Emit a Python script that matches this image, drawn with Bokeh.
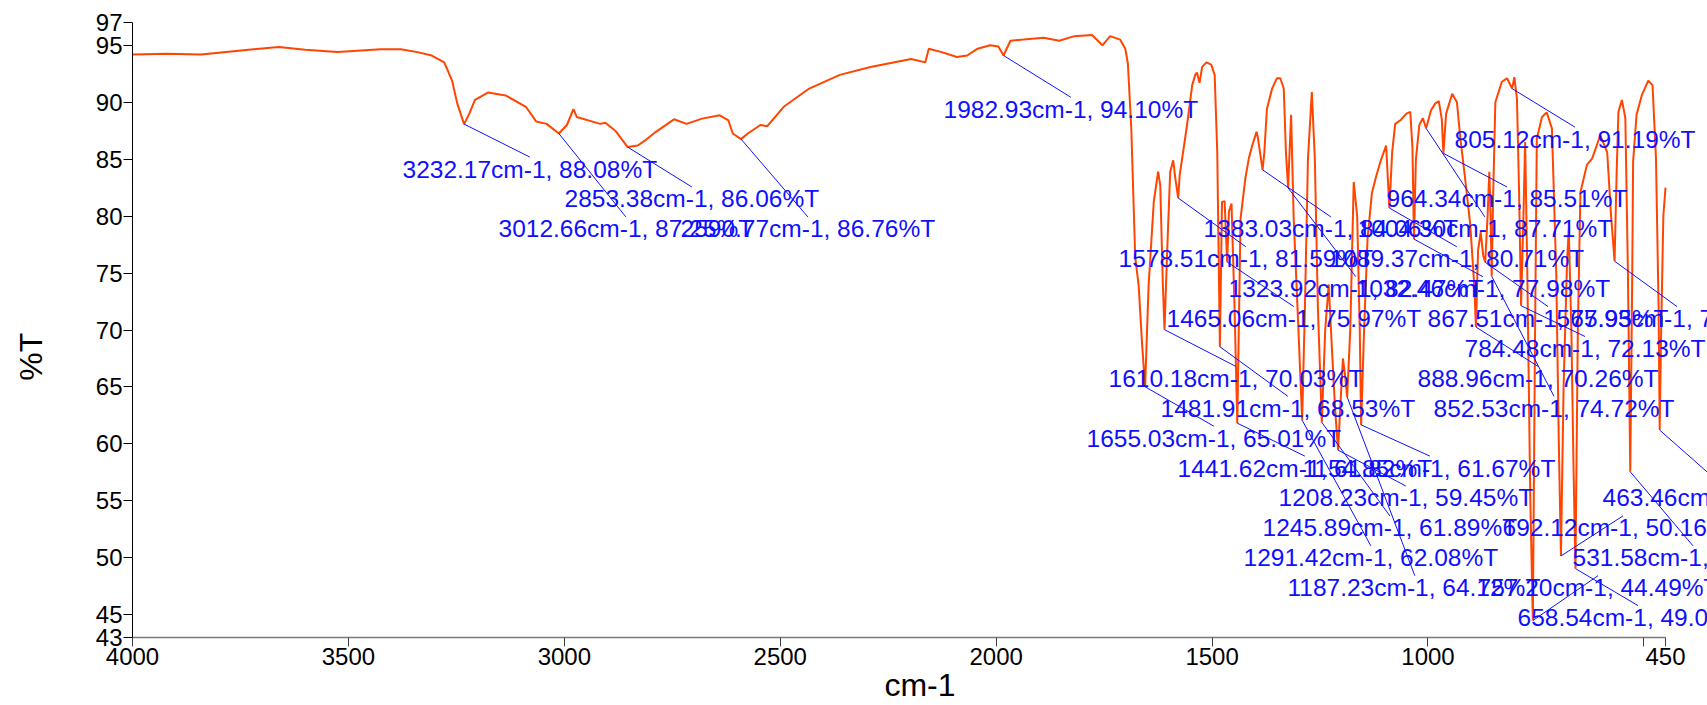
from bokeh.plotting import figure
from bokeh.models import Range1d, FixedTicker, LabelSet, ColumnDataSource
from bokeh.embed import file_html
from bokeh.resources import INLINE
from bokeh.core.properties import value

# ---------------- data: IR spectrum (cm-1, %T) ----------------
wavenumber = [4000, 3920, 3841, 3760, 3661, 3600, 3525, 3425, 3379, 3340, 3307, 3278, 3260, 3248,
              3232.17, 3220, 3207, 3177, 3136, 3089, 3065, 3041, 3012.66, 2994, 2979, 2971, 2917,
              2905, 2882, 2853.38, 2830, 2811, 2788, 2746, 2717, 2681, 2640, 2620, 2610, 2590.77,
              2575, 2546, 2530, 2492, 2433, 2362, 2291, 2197, 2164, 2156, 2126, 2091, 2067, 2043,
              2014, 1995, 1982.93, 1967, 1937, 1890, 1854, 1819, 1778, 1754, 1736, 1713, 1701,
              1695, 1687, 1678, 1670, 1662, 1655.03, 1647, 1635, 1625, 1620, 1614, 1610.18, 1604,
              1597, 1590, 1585, 1578.51, 1575, 1566, 1558, 1546, 1539, 1535, 1529, 1523, 1513,
              1502, 1494, 1488, 1481.91, 1477, 1471, 1465.06, 1461, 1455, 1448, 1441.62, 1434,
              1423, 1415, 1407, 1397, 1394, 1383.03, 1379, 1373, 1361, 1350, 1342, 1334, 1329,
              1323.92, 1317, 1311, 1300, 1291.42, 1285, 1278, 1269, 1262, 1255, 1245.89, 1238,
              1230, 1222, 1215, 1208.23, 1202, 1197, 1192, 1187.23, 1180, 1172, 1164, 1158,
              1154.85, 1148, 1140, 1130, 1120, 1110, 1097, 1089.37, 1083, 1076, 1064, 1050, 1041,
              1036, 1032.46, 1028, 1020, 1012, 1004.30, 993, 983, 975, 968, 964.34, 958, 944, 933,
              925, 914, 902, 893, 888.96, 884, 878, 872, 867.51, 862, 858, 855, 852.53, 849, 844,
              829, 817, 805.12, 800, 794, 789, 784.48, 779, 775, 770, 763, 757.20, 752, 748, 736,
              725, 713, 703, 697, 692.12, 686, 678, 674, 668, 663, 658.54, 653, 647, 632, 620, 601,
              585, 576, 567.93, 563, 559, 551, 543, 537, 531.58, 527, 525, 517, 505, 490, 480, 472,
              466, 463.46, 460, 455, 450]
transmittance = [94.2, 94.25, 94.2, 94.5, 94.85, 94.6, 94.4, 94.65, 94.65, 94.4, 94.1, 93.5, 91.9, 89.9,
                 88.08, 89.0, 90.2, 90.85, 90.6, 89.6, 88.3, 88.1, 87.25, 88.0, 89.4, 88.7, 88.1,
                 88.2, 87.5, 86.06, 86.2, 86.7, 87.4, 88.5, 88.1, 88.56, 88.85, 88.4, 87.25, 86.76,
                 87.25, 88.0, 87.9, 89.6, 91.2, 92.4, 93.1, 93.8, 93.5, 94.7, 94.4, 93.97, 94.1, 94.7,
                 95.0, 94.9, 94.10, 95.4, 95.5, 95.67, 95.4, 95.8, 95.9, 95.0, 95.8, 95.5, 94.7,
                 93.4, 87.6, 76.4, 73.9, 68.7, 65.01, 73.9, 81.25, 83.9, 82.7, 74.0, 70.03, 76.9,
                 83.9, 84.9, 83.3, 81.59, 83.6, 85.9, 88.0, 91.5, 92.4, 92.6, 91.7, 93.1, 93.5,
                 93.3, 92.4, 85.6, 68.53, 81.25, 81.3, 75.97, 80.4, 81.1, 72.0, 61.82, 79.8,
                 83.3, 85.05, 86.2, 87.4, 86.9, 84.06, 85.6, 89.4, 91.2, 92.1, 92.1, 91.2, 85.6,
                 82.47, 88.9, 79.8, 70.0, 62.08, 72.0, 85.0, 90.9, 85.0, 72.0, 61.89, 70.0,
                 74.0, 68.0, 63.0, 59.45, 64.0, 67.5, 66.0, 64.12, 70.0, 83.0, 80.0, 70.0,
                 61.67, 70.0, 78.0, 82.0, 83.5, 84.8, 86.2, 80.71, 85.6, 88.1, 88.4, 89.0, 89.15,
                 86.0, 77.98, 85.0, 88.0, 88.6, 87.71, 89.3, 89.9, 90.1, 88.5, 85.51, 89.0, 90.75, 90.0,
                 86.8, 83.3, 79.2, 74.0, 70.26, 77.0, 78.6, 76.5, 75.95, 80.0, 83.9, 80.0, 74.72, 82.0, 90.0,
                 91.8, 92.1, 91.19, 92.2, 90.3, 82.0, 72.13, 80.0, 86.5, 75.0, 55.0, 44.49, 70.0, 86.8, 88.7,
                 89.1, 87.7, 75.0, 60.0, 50.16, 65.0, 76.0, 78.9, 70.0, 58.0, 49.05, 70.0, 82.1, 84.5, 85.05, 87.1,
                 85.6, 80.0, 76.04, 84.0, 89.15, 90.2, 88.6, 75.0, 57.55, 75.0, 84.8, 88.9, 90.6, 91.9, 91.5, 85.0,
                 72.0, 61.21, 70.0, 80.0, 82.5]

# labelled peaks
peak_wn = [1982.93, 805.12, 3232.17, 2853.38, 964.34, 3012.66, 2590.77, 1383.03, 1004.30,
           1578.51, 1089.37, 1323.92, 1032.46, 1465.06, 867.51, 567.93, 784.48, 1610.18,
           888.96, 1481.91, 852.53, 1655.03, 1441.62, 1154.85, 1208.23, 463.46, 1245.89,
           692.12, 1291.42, 531.58, 1187.23, 757.20, 658.54]
peak_t = [94.10, 91.19, 88.08, 86.06, 85.51, 87.25, 86.76, 84.06, 87.71,
          81.59, 80.71, 82.47, 77.98, 75.97, 75.95, 76.04, 72.13, 70.03,
          70.26, 68.53, 74.72, 65.01, 61.82, 61.67, 59.45, 61.21, 61.89,
          50.16, 62.08, 57.55, 64.12, 44.49, 49.05]

# axis ticks
x_ticks = [4000, 3500, 3000, 2500, 2000, 1500, 1000, 500, 450]
y_ticks = [43, 45, 50, 55, 60, 65, 70, 75, 80, 85, 90, 95, 97]

# ---------------- layout (pixels) ----------------
W, H = 1707, 705
ML, MT, MB = 132, 22, 66
AXIS_W = 1533                 # pixel length of the 4000..450 axis
FW = W - ML                   # frame runs to the right edge so labels are not cut
FH = H - MT - MB
X0, X1 = 4000, 450
Y0, Y1 = 43, 97
PXX = AXIS_W / (X0 - X1)
PXY = FH / (Y1 - Y0)
X_END = X0 - FW / PXX

# label left edge (px from frame left) and text row index
label_left = [811, 1322, 270, 432, 1254, 366, 548, 1071, 1225,
              986, 1197, 1096, 1223, 1034, 1295, 1424, 1332, 976,
              1285, 1028, 1301, 954, 1045, 1170, 1146, 1470, 1130,
              1370, 1111, 1440, 1155, 1345, 1385]
label_row = [0, 1, 2, 3, 3, 4, 4, 4, 4,
             5, 5, 6, 6, 7, 7, 7, 8, 9,
             9, 10, 10, 11, 12, 12, 13, 13, 14,
             14, 15, 15, 16, 16, 17]
ROW0, ROW_STEP = 87, 30
LABEL_FS = 24.5

CW = {**{d: 0.556 for d in "0123456789"}, ".": 0.278, ",": 0.278, " ": 0.278,
      "c": 0.5, "m": 0.833, "-": 0.333, "%": 0.889, "T": 0.611}

texts = [f"{w:.2f}cm-1, {t:.2f}%T" for w, t in zip(peak_wn, peak_t)]
lx, ly, sx1, sy1 = [], [], [], []
for txt, left, row in zip(texts, label_left, label_row):
    tw = sum(CW.get(c, 0.556) for c in txt) * LABEL_FS
    yc = ROW0 + ROW_STEP * row
    lx.append(X0 - left / PXX)
    ly.append(Y1 - yc / PXY)
    sx1.append(X0 - (left + tw / 2) / PXX)
    sy1.append(Y1 - (yc - 12) / PXY)

p = figure(width=W, height=H, x_range=Range1d(X0, X_END), y_range=Range1d(Y0, Y1),
           output_backend="svg", toolbar_location=None,
           min_border_left=ML, min_border_right=0, min_border_top=MT, min_border_bottom=MB)
p.outline_line_color = None
p.grid.visible = False
p.background_fill_color = "white"
p.border_fill_color = "white"

p.xaxis.ticker = FixedTicker(ticks=x_ticks)
p.xaxis.major_label_overrides = {500: ""}
p.xaxis.bounds = (X1, X0)
p.yaxis.ticker = FixedTicker(ticks=y_ticks)
for ax in (p.xaxis, p.yaxis):
    ax.minor_tick_line_color = None
    ax.major_tick_in = 0
    ax.major_tick_out = 9
    ax.major_label_text_font = "Liberation Sans"
    ax.major_label_text_font_size = "24px"
    ax.major_label_text_color = "black"
    ax.axis_label_text_font = "Liberation Sans"
    ax.axis_label_text_font_size = "32px"
    ax.axis_label_text_font_style = "normal"
    ax.axis_label_text_color = "black"
p.yaxis.axis_line_color = "black"
p.yaxis.major_tick_line_color = "black"
p.yaxis.major_label_standoff = 1
p.yaxis.axis_label = "%T" + "\u00a0" * 6
p.yaxis.axis_label_standoff = 44
p.xaxis.axis_line_color = "#7a7a7a"
p.xaxis.axis_line_width = 1.5
p.xaxis.major_tick_line_color = "#404040"
p.xaxis.major_label_standoff = 1
p.xaxis.axis_label = "cm-1"
p.xaxis.axis_label_standoff = -1

p.line(wavenumber, transmittance, line_color="#FF4500", line_width=2)

p.segment(x0=peak_wn, y0=peak_t, x1=sx1, y1=sy1, line_color="#1010ff", line_width=1)

src = ColumnDataSource(dict(x=lx, y=ly, text=texts))
p.add_layout(LabelSet(x="x", y="y", text="text", source=src,
                      text_font=value("Liberation Sans"), text_font_size=value(f"{LABEL_FS}px"),
                      text_color="#1010ff", text_baseline="middle", text_align="left"))

open("out.html", "w").write(file_html(p, INLINE))
